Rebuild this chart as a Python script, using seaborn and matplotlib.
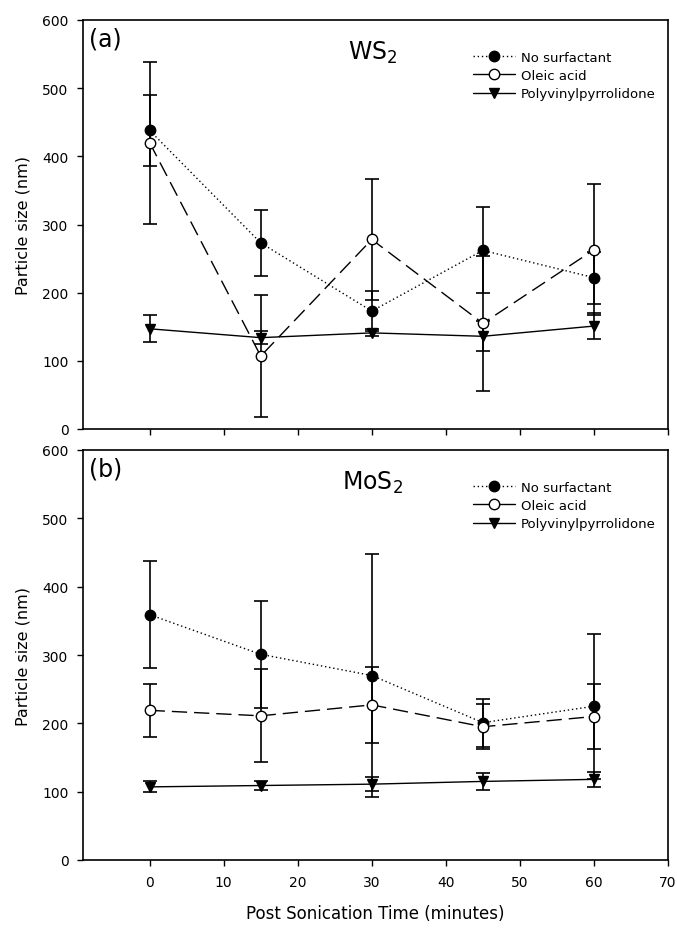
import numpy as np
import pandas as pd
import seaborn as sns
import matplotlib.pyplot as plt
from matplotlib.lines import Line2D

sns.set_theme(style="ticks")
plt.rcParams['font.family'] = ['DejaVu Sans']
plt.rcParams['text.color'] = 'black'
plt.rcParams['axes.labelcolor'] = 'black'

time = [0, 15, 30, 45, 60]
series = ["No surfactant", "Oleic acid", "Polyvinylpyrrolidone"]

# WS2 (a)
ws2_none = [438, 273, 173, 262, 222]
ws2_none_err = [52, 49, 29, 63, 38]
ws2_oleic = [420, 107, 278, 155, 263]
ws2_oleic_err = [119, 90, 89, 99, 96]
ws2_pvp = [147, 134, 141, 136, 151]
ws2_pvp_err = [20, 10, 5, 22, 19]

# MoS2 (b)
mos2_none = [359, 301, 270, 201, 225]
mos2_none_err = [78, 78, 178, 35, 106]
mos2_oleic = [219, 211, 227, 195, 210]
mos2_oleic_err = [39, 68, 56, 33, 47]
mos2_pvp = [107, 109, 111, 115, 118]
mos2_pvp_err = [8, 7, 10, 13, 11]

yticks = [0, 100, 200, 300, 400, 500, 600]
xticks = [0, 10, 20, 30, 40, 50, 60, 70]

styles = {
    "No surfactant": dict(ls=(0, (1, 2)), marker="o", mfc="black"),
    "Oleic acid": dict(ls=(0, (11, 5)), marker="o", mfc="white"),
    "Polyvinylpyrrolidone": dict(ls="-", marker="v", mfc="black"),
}

W, H = 677, 929
fig = plt.figure(figsize=(6.77, 9.29), dpi=100)
ax1 = fig.add_axes([83/W, 1-430/H, 585/W, 409/H])
ax2 = fig.add_axes([83/W, 1-861/H, 585/W, 410/H])

panels = [
    (ax1, "(a)", "WS$_2$", [ws2_none, ws2_oleic, ws2_pvp], [ws2_none_err, ws2_oleic_err, ws2_pvp_err]),
    (ax2, "(b)", "MoS$_2$", [mos2_none, mos2_oleic, mos2_pvp], [mos2_none_err, mos2_oleic_err, mos2_pvp_err]),
]

for ax, tag, title, vals, errs in panels:
    for name, v, e in zip(series, vals, errs):
        st = styles[name]
        df = pd.DataFrame({"time": time, "size": v})
        ax.errorbar(time, v, yerr=e, fmt="none", ecolor="black", elinewidth=1.2,
                    capsize=5, capthick=1.2, zorder=2)
        sns.lineplot(data=df, x="time", y="size", ax=ax, color="black", lw=1.0,
                     linestyle=st["ls"], marker=st["marker"], markersize=7.5,
                     markerfacecolor=st["mfc"], markeredgecolor="black",
                     markeredgewidth=1.0, zorder=3)
    ax.set_xlim(-9, 70)
    ax.set_ylim(0, 600)
    ax.set_yticks(yticks)
    ax.set_xticks(xticks)
    ax.set_xlabel("")
    ax.tick_params(direction="out", length=4.5, width=1, labelsize=10, colors="black", pad=6)
    for sp in ax.spines.values():
        sp.set_visible(True)
        sp.set_linewidth(1.2)
        sp.set_color("black")
    ax.text(0.01, 0.985, tag, transform=ax.transAxes, fontsize=17, va="top", ha="left",
            color="black")
    ax.text(0.495, 0.922, title, transform=ax.transAxes, fontsize=17, va="center",
            ha="center", color="black")
    handles = [
        Line2D([], [], color="black", lw=1.0, ls=(0, (1, 2)), marker="o", markersize=7.5,
               markerfacecolor="black", markeredgecolor="black"),
        Line2D([], [], color="black", lw=1.0, ls="-", marker="o", markersize=7.5,
               markerfacecolor="white", markeredgecolor="black"),
        Line2D([], [], color="black", lw=1.0, ls="-", marker="v", markersize=7.5,
               markerfacecolor="black", markeredgecolor="black"),
    ]
    leg = ax.legend(handles, series, loc="upper left", bbox_to_anchor=(0.667, 0.925),
                    frameon=False, fontsize=9.5, handlelength=3.2, labelspacing=0.4,
                    handletextpad=0.4, borderpad=0, borderaxespad=0)
    for t in leg.get_texts():
        t.set_color("black")
    ax.set_ylabel("Particle size (nm)", fontsize=11.5, labelpad=8)

ax1.set_xticklabels([])
ax2.set_xlabel("Post Sonication Time (minutes)", fontsize=12, labelpad=11)

fig.savefig("out.png", dpi=100)
